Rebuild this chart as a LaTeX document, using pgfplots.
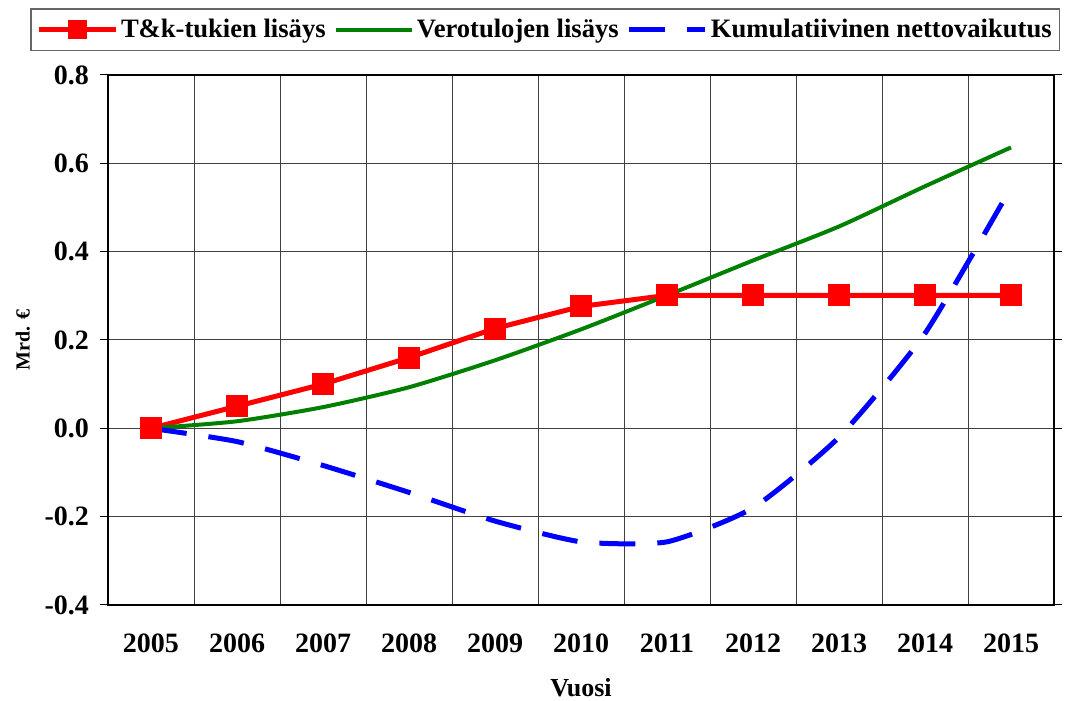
\documentclass[border=0pt]{standalone}
\usepackage{pgfplots}
\pgfplotsset{compat=1.18}
\usepackage{fontspec}
\setmainfont{Liberation Serif}
\begin{document}
\begin{tikzpicture}
\useasboundingbox (0,0) rectangle (532.5pt,350.5pt);
\begin{axis}[
  at={(54pt,48pt)}, anchor=south west,
  scale only axis, width=473pt, height=265pt,
  xmin=-0.5, xmax=10.5, ymin=-0.4, ymax=0.8,
  xtick={0,...,10},
  xticklabels={2005,2006,2007,2008,2009,2010,2011,2012,2013,2014,2015},
  minor xtick={-0.5,0.5,...,10.5},
  ytick={-0.4,-0.2,0,0.2,0.4,0.6,0.8},
  xmajorgrids=false, xminorgrids=true, ymajorgrids=true,
  grid style={black!75, line width=0.5pt},
  minor grid style={black!75, line width=0.5pt},
  axis line style={black, line width=1pt},
  tick align=outside,
  major tick length=4pt, minor tick length=0pt,
  ytick style={black, line width=0.5pt},
  xtick style={draw=none},
  /pgf/number format/assume math mode=true,
  yticklabel style={font=\fontsize{14}{16}\selectfont\bfseries, xshift=-2pt, /pgf/number format/.cd, fixed, fixed zerofill, precision=1},
  xticklabel style={font=\fontsize{14}{16}\selectfont\bfseries, yshift=-7pt},
  xlabel={\bfseries Vuosi}, xlabel style={font=\fontsize{13}{15}\selectfont, yshift=-6pt},
  ylabel={\bfseries Mrd. €}, ylabel style={font=\fontsize{10}{12}\selectfont, yshift=0.5pt},
  legend columns=3,
  legend style={at={(rel axis cs:-0.0825,1.085)}, anchor=west, draw=black!60, line width=0.8pt,
    font=\fontsize{13.3}{15}\selectfont\bfseries,
    nodes={inner xsep=1pt},
    /tikz/every odd column/.append style={column sep=0.5pt},
    /tikz/every even column/.append style={column sep=3pt},
    inner sep=3pt},
  legend image code/.code={\draw[mark repeat=2,mark phase=2,mark size=3.5pt,#1] plot coordinates {(0cm,0cm) (0.67cm,0cm) (1.34cm,0cm)};},
]
\addplot[red, line width=2.5pt, mark=square*, mark size=4.25pt, mark options={solid}] coordinates {
 (0,0) (1,0.05) (2,0.10) (3,0.16) (4,0.226) (5,0.276) (6,0.301) (7,0.301) (8,0.301) (9,0.301) (10,0.301)};
\addlegendentry{T\&k-tukien lisäys}
\addplot[green!50!black, line width=2pt, smooth, tension=0.4, no marks] coordinates {
 (0,0) (1,0.016) (2,0.048) (3,0.093) (4,0.154) (5,0.224) (6,0.301) (7,0.38) (8,0.457) (9,0.548) (10,0.636)};
\addlegendentry{Verotulojen lisäys}
\addplot[blue, line width=2.5pt, dash pattern=on 18pt off 11pt, smooth, tension=0.35, no marks] coordinates {
 (0,0) (1,-0.03) (2,-0.084) (3,-0.145) (4,-0.21) (5,-0.257) (6,-0.257) (7,-0.18) (8,-0.02) (9,0.215) (10,0.545)};
\addlegendentry{Kumulatiivinen nettovaikutus}
\end{axis}
\end{tikzpicture}
\end{document}
